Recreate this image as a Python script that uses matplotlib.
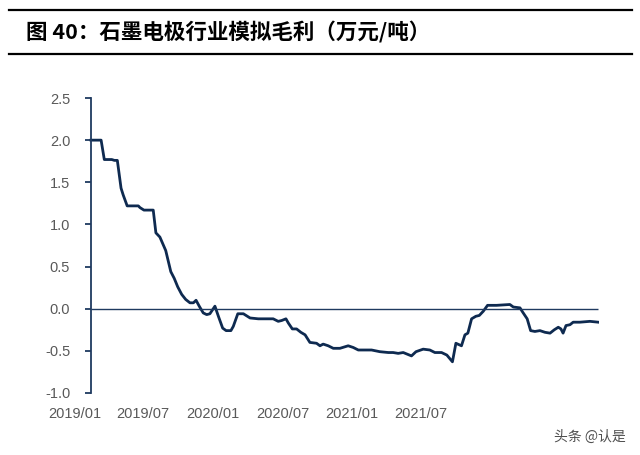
import matplotlib
matplotlib.use("Agg")
import matplotlib.pyplot as plt

plt.rcParams['font.family'] = ['Liberation Sans', 'Noto Sans CJK SC', 'DejaVu Sans']

# weekly index (week 0 = first week of 2019) and simulated gross margin (10k yuan / t)
weeks = [0, 3.8, 5.0, 7.8, 8.8, 9.9, 11.3, 12.1, 13.6, 17.8, 18.4, 19.9, 23.4, 24.4,
         25.9, 28.1, 30.0, 31.3, 32.6, 34.1, 35.6, 37.2, 38.5, 39.5, 40.7, 42.2, 43.5,
         44.7, 46.6, 47.9, 49.5, 50.8, 52.6, 53.5, 55.2, 57.3, 59.8, 62.9, 68.5, 70.4,
         71.7, 73.3, 74.2, 75.7, 77.3, 78.9, 80.5, 82.3, 84.8, 86.1, 87.3, 89.2, 91.1,
         93.6, 96.7, 98.6, 100.5, 105.5, 108.6, 111.8, 113.6, 115.5, 117.4, 120.5,
         122.2, 124.9, 127.4, 129.3, 131.8, 133.8, 135.9, 137.2, 139.3, 140.6, 141.7,
         143.1, 144.7, 146.0, 147.5, 149.1, 152.5, 157.5, 158.8, 161.3, 162.3, 164.0,
         165.3, 166.9, 168.8, 170.7, 172.6, 174.2, 175.7, 176.7, 177.5, 178.6, 180.1,
         181.3, 183.8, 187.6, 190.7]
margin = [2.00, 2.00, 1.77, 1.77, 1.76, 1.76, 1.43, 1.35, 1.22, 1.22, 1.20, 1.17, 1.17, 0.90,
          0.85, 0.69, 0.44, 0.36, 0.26, 0.17, 0.11, 0.07, 0.07, 0.10, 0.03, -0.05, -0.07,
          -0.06, 0.03, -0.09, -0.23, -0.26, -0.26, -0.21, -0.06, -0.06, -0.11, -0.12, -0.12, -0.15,
          -0.14, -0.12, -0.17, -0.24, -0.24, -0.28, -0.31, -0.40, -0.41, -0.44, -0.42, -0.44, -0.47,
          -0.47, -0.44, -0.46, -0.49, -0.49, -0.51, -0.52, -0.52, -0.53, -0.52, -0.56,
          -0.51, -0.48, -0.49, -0.52, -0.52, -0.55, -0.63, -0.41, -0.44, -0.31, -0.29,
          -0.12, -0.09, -0.08, -0.03, 0.04, 0.04, 0.05, 0.02, 0.01, -0.04, -0.12,
          -0.26, -0.27, -0.26, -0.28, -0.29, -0.25, -0.22, -0.24, -0.29, -0.20, -0.19,
          -0.16, -0.16, -0.15, -0.16]

tick_weeks = [-6, 19.5, 46, 72, 98, 124]
tick_labels = ["2019/01", "2019/07", "2020/01", "2020/07", "2021/01", "2021/07"]
y_ticks = [-1.0, -0.5, 0.0, 0.5, 1.0, 1.5, 2.0, 2.5]

navy = "#0e2a50"
axis_col = "#1f3a60"
grey = "#595959"

fig = plt.figure(figsize=(6.4, 4.55), dpi=100)
ax = fig.add_axes([0.1131, 0.1363, 0.8228, 0.6483])

ax.plot(weeks, margin, color=navy, lw=2.0, solid_joinstyle="round")
ax.hlines(0, weeks[0], weeks[-1], color=axis_col, lw=1.0)

ax.set_xlim(-7, 191)
ax.set_ylim(-1.0, 2.5)
ax.spines["left"].set_position(("data", 0))
ax.spines["left"].set_color(axis_col)
ax.spines["left"].set_linewidth(1.3)
for s in ["top", "right", "bottom"]:
    ax.spines[s].set_visible(False)

ax.set_yticks(y_ticks)
ax.set_yticklabels([f"{v:.1f}" for v in y_ticks])
ax.tick_params(axis="y", direction="out", length=4, width=1.3, color=axis_col,
               pad=11, labelsize=10.5, labelcolor=grey)
ax.set_xticks(tick_weeks)
ax.set_xticklabels(tick_labels)
ax.tick_params(axis="x", length=0, pad=10, labelsize=10.5, labelcolor=grey)

# header
fig.add_artist(plt.Line2D([0.0145, 0.987], [1 - 10 / 455, 1 - 10 / 455],
                          color="black", lw=1.6))
fig.add_artist(plt.Line2D([0.0145, 0.987], [1 - 54 / 455, 1 - 54 / 455],
                          color="black", lw=1.6))
fig.text(26 / 640, 1 - 32 / 455, "图 40：石墨电极行业模拟毛利（万元/吨）",
         family=["Noto Sans CJK SC", "DejaVu Sans"], fontsize=15.5,
         fontweight="bold", va="center", ha="left", color="black")

fig.text(626 / 640, 1 - 437 / 455, "头条 @认是", family=["Noto Sans CJK SC", "DejaVu Sans"],
         fontsize=10, color="#505050", ha="right", va="center")

fig.savefig("out.png", dpi=100)
